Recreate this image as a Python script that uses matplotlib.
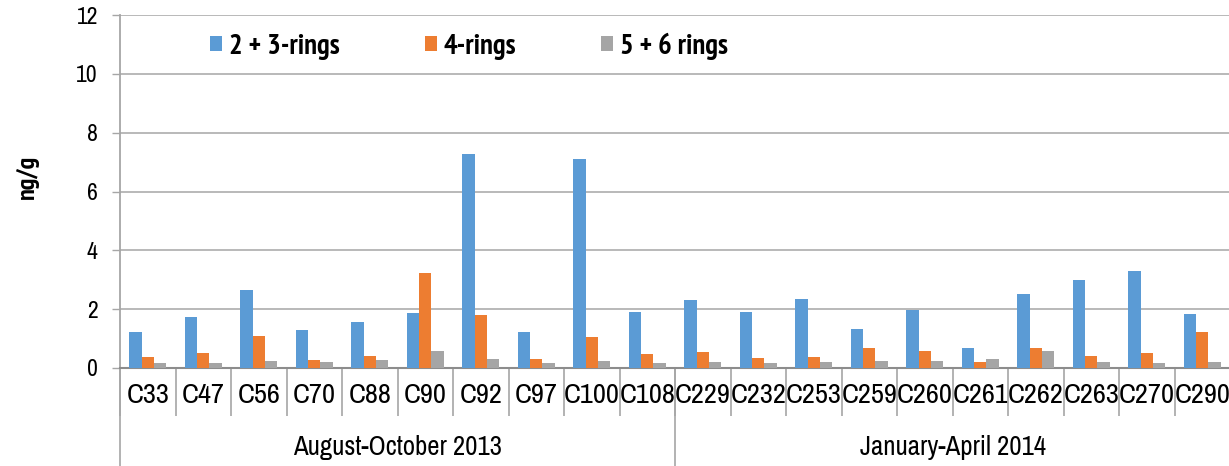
import os
import matplotlib
matplotlib.use("Agg")
import matplotlib.pyplot as plt
import numpy as np
from matplotlib import font_manager as fm
from matplotlib.transforms import blended_transform_factory

# ---------- font choice: a narrow sans if one is installed ----------
ttf = fm.fontManager.ttflist
def pick(pred):
    for f in ttf:
        if pred(f):
            return f.fname
    return None

reg = pick(lambda f: 'narrow' in f.name.lower() and f.weight in (400, 'normal') and f.style == 'normal')
bold = pick(lambda f: 'narrow' in f.name.lower() and f.weight in (700, 'bold') and f.style == 'normal')
KIND = 'narrow'
if reg is None:
    reg = pick(lambda f: 'dejavusanscondensed.ttf' == os.path.basename(f.fname).lower())
    bold = pick(lambda f: 'dejavusanscondensed-bold.ttf' == os.path.basename(f.fname).lower())
    KIND = 'condensed'
if reg is None:
    KIND = 'plain'
if bold is None:
    bold = reg

def fp(size, b=False):
    if KIND == 'plain':
        return fm.FontProperties(family='DejaVu Sans', size=size * 0.72, weight='bold' if b else 'normal')
    if KIND == 'condensed':
        size *= 0.8
    return fm.FontProperties(fname=bold if b else reg, size=size)

# ---------- data ----------
categories = ["C33", "C47", "C56", "C70", "C88", "C90", "C92", "C97", "C100", "C108",
              "C229", "C232", "C253", "C259", "C260", "C261", "C262", "C263", "C270", "C290"]
groups = ["August-October 2013", "January-April 2014"]
group_sizes = [10, 10]
series_names = ["2 + 3-rings", "4-rings", "5 + 6 rings"]
rings_2_3 = [1.24, 1.72, 2.64, 1.30, 1.55, 1.88, 7.28, 1.23, 7.10, 1.89,
             2.32, 1.90, 2.33, 1.31, 1.98, 0.68, 2.50, 2.99, 3.30, 1.82]
rings_4 = [0.39, 0.52, 1.10, 0.27, 0.41, 3.22, 1.81, 0.31, 1.05, 0.48,
           0.56, 0.33, 0.39, 0.67, 0.58, 0.20, 0.67, 0.41, 0.52, 1.21]
rings_5_6 = [0.17, 0.18, 0.25, 0.22, 0.27, 0.59, 0.31, 0.18, 0.24, 0.18,
             0.19, 0.18, 0.20, 0.25, 0.23, 0.32, 0.58, 0.22, 0.18, 0.22]
colors = ["#5B9BD5", "#ED7D31", "#A5A5A5"]

W, H = 1229, 466
fig = plt.figure(figsize=(W / 100, H / 100), dpi=100)
ax = fig.add_axes([120 / W, 1 - 368 / H, (1230 - 120) / W, (368 - 15) / H])

x = np.arange(len(categories))
bw = 0.225
handles = []
for i, (vals, c) in enumerate(zip([rings_2_3, rings_4, rings_5_6], colors)):
    h = ax.bar(x + (i - 1) * bw, vals, bw, color=c, label=series_names[i], zorder=3)
    handles.append(h)

ax.set_xlim(-0.5, len(categories) - 0.5)
ax.set_ylim(0, 12)
ax.set_yticks(np.arange(0, 13, 2))
ax.tick_params(axis='y', length=6, width=1, color='#A6A6A6', pad=10)
for lbl in ax.get_yticklabels():
    lbl.set_fontproperties(fp(17))
ax.grid(axis='y', color='#B3B3B3', linewidth=1.3, zorder=0)
for s in ['top', 'right']:
    ax.spines[s].set_visible(False)
ax.spines['left'].set_color('#A6A6A6')
ax.spines['left'].set_linewidth(1.3)
ax.spines['bottom'].set_color('#8C8C8C')
ax.spines['bottom'].set_linewidth(1.5)

ax.set_xticks(x)
ax.set_xticklabels(categories)
ax.tick_params(axis='x', length=0, pad=11)
for lbl in ax.get_xticklabels():
    lbl.set_fontproperties(fp(20.5))
ax.set_xticks(np.arange(-0.5, len(categories), 1), minor=True)
ax.tick_params(axis='x', which='minor', length=34.5, width=1.2, color='#A6A6A6', direction='out')

trans = blended_transform_factory(ax.transData, fig.transFigure)
bounds = np.concatenate([[0], np.cumsum(group_sizes)]) - 0.5
for b in bounds[:-1]:
    ax.plot([b, b], [1 - 368 / H, 0], transform=trans, color='#A6A6A6', lw=1.2, clip_on=False)
for g, a, b in zip(groups, bounds[:-1], bounds[1:]):
    ax.text((a + b) / 2, 1 - 448 / H, g, transform=trans, ha='center', va='center',
            fontproperties=fp(19.3))

fig.text(27 / W, 1 - 177 / H, "ng/g", rotation=90, ha='center', va='center',
         fontproperties=fp(19, True))

leg_fp = fp(20.6, True)
em = leg_fp.get_size_in_points() * 100 / 72.0
ax.legend(handles=handles, loc='center left', bbox_to_anchor=((210 - 120) / 1110, (368 - 46) / 353),
          ncol=3, frameon=False, borderpad=0, borderaxespad=0,
          handlelength=12 / em, handleheight=12 / em,
          handletextpad=7 / em, columnspacing=85 / em, prop=leg_fp)

fig.savefig("out.png", dpi=100)
